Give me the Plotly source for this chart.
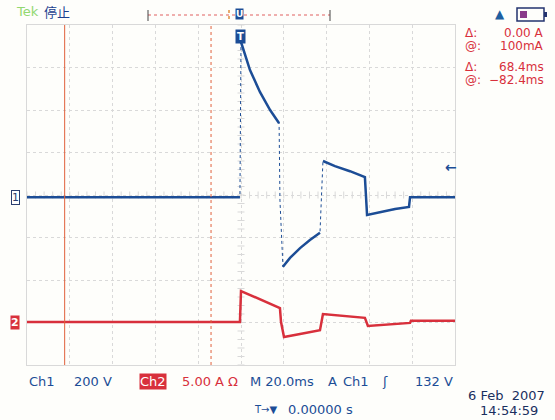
import numpy as np
import plotly.graph_objects as go

# ---- data (time in ms, amplitude in screen divisions) ----
ch1_t = [-100, -0.5, 0.0, 4.2, 8.9, 13.6, 17.8, 18.2, 19.6, 22.9, 27.6, 32.2, 36.9,
         38.3, 43.9, 50.9, 57.9, 58.9, 65.0, 72.0, 78.5, 79.0, 100]
ch1_y = [-0.05, -0.05, 3.6, 2.94, 2.42, 2.0, 1.69, -0.12, -1.69, -1.48, -1.25, -1.06, -0.89,
         0.8, 0.68, 0.56, 0.42, -0.47, -0.40, -0.33, -0.28, -0.05, -0.05]
ch2_t = [-100, -0.5, 0.0, 8.9, 18.2, 18.7, 20.1, 27.6, 36.9, 38.3, 48.6, 57.9,
         59.3, 69.6, 79.0, 79.4, 100]
ch2_y = [-2.99, -2.99, -2.26, -2.45, -2.66, -2.99, -3.34, -3.27, -3.18, -2.8, -2.85, -2.89,
         -3.08, -3.04, -3.01, -2.96, -2.96]
cursor_t = [-82.4, -14.0]
trigger_level_div = 0.66

BLUE = "#1c4d96"
RED = "#d8303c"
CUR = "#e0603c"
GRID = "#d9d9d9"
FONT = "DejaVu Sans"

W, H = 555, 420
L, R, T, B = 27, 100, 25, 55
PW, PH = W - L - R, H - T - B


def px(x):
    return (x - L) / PW


def py(y):
    return (H - B - y) / PH


def thick_path(t, y):
    # break the heavy trace at the big fast edges (they show as faint lines on the scope)
    xs, ys = [t[0]], [y[0]]
    for i in range(1, len(t)):
        if t[i] - t[i - 1] < 1.6 and abs(y[i] - y[i - 1]) > 1.2:
            xs.append(None)
            ys.append(None)
        xs.append(t[i])
        ys.append(y[i])
    return xs, ys


fig = go.Figure()

# center-line minor ticks of the graticule
mt = np.arange(-100, 100.01, 4)
fig.add_trace(go.Scatter(x=mt, y=np.zeros_like(mt), mode="markers",
                         marker=dict(symbol="line-ns", size=5, line=dict(width=1, color=GRID)),
                         hoverinfo="skip", showlegend=False))
my = np.arange(-4, 4.01, 0.2)
fig.add_trace(go.Scatter(x=np.zeros_like(my), y=my, mode="markers",
                         marker=dict(symbol="line-ew", size=5, line=dict(width=1, color=GRID)),
                         hoverinfo="skip", showlegend=False))

# cursors
fig.add_shape(type="line", x0=cursor_t[0], x1=cursor_t[0], y0=-4, y1=4,
              line=dict(color=CUR, width=1))
fig.add_shape(type="line", x0=cursor_t[1], x1=cursor_t[1], y0=-4, y1=4,
              line=dict(color=CUR, width=1, dash="dot"))

for t, y, c in [(ch1_t, ch1_y, BLUE), (ch2_t, ch2_y, RED)]:
    fig.add_trace(go.Scatter(x=t, y=y, mode="lines", line=dict(color=c, width=1, dash="dot"),
                             showlegend=False, hoverinfo="skip"))
    xs, ys = thick_path(t, y)
    fig.add_trace(go.Scatter(x=xs, y=ys, mode="lines", line=dict(color=c, width=2.5),
                             connectgaps=False, showlegend=False))

ann = []


def text(x, y, s, color, size=13, xanchor="left", **kw):
    ann.append(dict(x=px(x), y=py(y), xref="paper", yref="paper", text=s, showarrow=False,
                    xanchor=xanchor, yanchor="middle", font=dict(color=color, size=size, family=FONT),
                    **kw))


# top bar
text(14, 12, "Tek", "#92d870", 13)
ann.append(dict(x=px(42), y=py(12), xref="paper", yref="paper", text="停止", showarrow=False,
                xanchor="left", yanchor="middle",
                font=dict(color="#1a3f8f", size=13, family="Noto Sans CJK SC")))
fig.add_shape(type="line", xref="paper", yref="paper", x0=px(148), x1=px(330), y0=py(15), y1=py(15),
              line=dict(color="#e06060", width=1, dash="dot"))
for bx in (148, 330):
    fig.add_shape(type="line", xref="paper", yref="paper", x0=px(bx), x1=px(bx), y0=py(10), y1=py(21),
                  line=dict(color="#444", width=1))
fig.add_shape(type="line", xref="paper", yref="paper", x0=px(229), x1=px(229), y0=py(10), y1=py(21),
              line=dict(color="#e09040", width=1.5, dash="dot"))
text(239, 14, "<b>U</b>", "white", 9, xanchor="center", bgcolor=BLUE, borderpad=0)

# right readouts
for yy, a, v in [(33, "Δ:", "0.00 A"), (46, "@:", "100mA"), (67, "Δ:", "68.4ms"), (80, "@:", "−82.4ms")]:
    text(463, yy, a, RED, 12)
    text(546, yy, v, RED, 12, xanchor="right")
text(500, 14, "▲", "#1f5fa0", 12, xanchor="center")
fig.add_shape(type="rect", xref="paper", yref="paper", x0=px(517), x1=px(544), y0=py(8), y1=py(21),
              line=dict(color="#23336f", width=1.5))
fig.add_shape(type="rect", xref="paper", yref="paper", x0=px(544), x1=px(547), y0=py(12), y1=py(17),
              fillcolor="#23336f", line=dict(width=0))
fig.add_shape(type="rect", xref="paper", yref="paper", x0=px(520), x1=px(527), y0=py(11), y1=py(18),
              fillcolor="#8a3a8a", line=dict(width=0))

# markers
text(240, 36, "<b>T</b>", "white", 10, xanchor="center", bgcolor=BLUE, borderpad=1)
text(15, 197, "1", "#2b3f70", 11, xanchor="center", bgcolor="white", bordercolor="#2b3f70",
     borderwidth=1, borderpad=0)
text(15, 322, "<b>2</b>", "white", 11, xanchor="center", bgcolor=RED, borderpad=0)
text(451, 167, "<b>←</b>", BLUE, 14, xanchor="center")

# bottom readouts
text(27, 381, "Ch1", BLUE)
text(72, 381, "200 V", BLUE)
text(139, 381, "Ch2", "white", 13, bgcolor=RED, borderpad=0)
text(180, 381, "5.00 A Ω", RED)
text(248, 381, "M 20.0ms", BLUE)
text(326, 381, "A", BLUE)
text(341, 381, "Ch1", BLUE)
text(380, 381, "ʃ", BLUE)
text(455, 381, "132 V", BLUE, xanchor="right")
text(252, 409, "T→▼", BLUE, 10)
text(286, 409, "0.00000 s", BLUE)
text(547, 396, "6 Feb  2007", "#1a2f5f", 13, xanchor="right")
text(540, 410, "14:54:59", "#1a2f5f", 13, xanchor="right")

axis_common = dict(showgrid=True, gridcolor=GRID, griddash="dot", gridwidth=1, zeroline=False,
                   showticklabels=False, ticks="", showline=True, linecolor=GRID, mirror=True,
                   fixedrange=True)
fig.update_layout(
    width=W, height=H, margin=dict(l=L, r=R, t=T, b=B),
    paper_bgcolor="#fefefb", plot_bgcolor="#fefefb",
    xaxis=dict(range=[-100, 100], dtick=20, **axis_common),
    yaxis=dict(range=[-4, 4], dtick=1, **axis_common),
    annotations=ann, showlegend=False,
)
fig.write_html("out.html", config={"displayModeBar": False},
               post_script="document.body.style.margin='0px';document.body.style.overflow='hidden';")
